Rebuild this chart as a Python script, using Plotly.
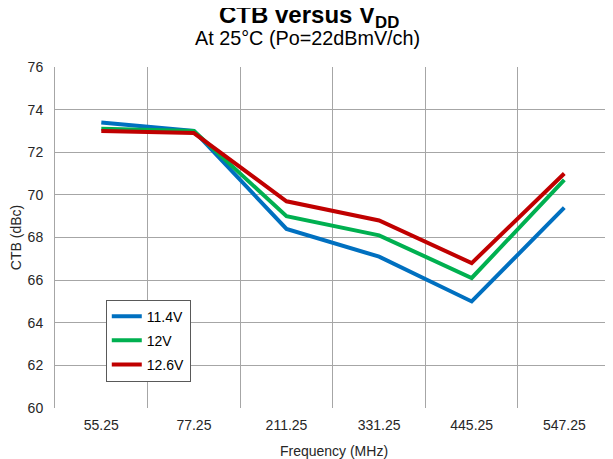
import plotly.graph_objects as go

# frequency categories (MHz)
freq = ['55.25', '77.25', '211.25', '331.25', '445.25', '547.25']

# CTB (dBc) per supply voltage
ctb_114 = [73.4, 73.0, 68.4, 67.1, 65.0, 69.4]
ctb_120 = [73.1, 73.0, 69.0, 68.1, 66.1, 70.7]
ctb_126 = [73.0, 72.9, 69.7, 68.8, 66.8, 71.0]

series = [
    ('11.4V', ctb_114, '#0070C0'),
    ('12V', ctb_120, '#00B050'),
    ('12.6V', ctb_126, '#C00000'),
]

FONT = 'Liberation Sans, Arial, sans-serif'
GRID = '#a6a6a6'

fig = go.Figure()
for i, (name, vals, color) in enumerate(series):
    fig.add_trace(go.Scatter(
        x=freq, y=vals, name=name, mode='lines',
        line=dict(color=color, width=4),
        legendgroup=str(i),
    ))

fig.update_xaxes(
    type='category', tickson='boundaries', range=[-0.5, 5.526],
    showgrid=True, gridcolor=GRID, gridwidth=1,
    showline=False, zeroline=False,
    tickfont=dict(size=14, color='#262626'),
    ticklabelstandoff=7,
    title=dict(text='Frequency (MHz)', font=dict(size=14, color='#262626'), standoff=14),
)
fig.update_yaxes(
    range=[60, 76], dtick=2,
    showgrid=True, gridcolor=GRID, gridwidth=1,
    showline=True, linecolor=GRID, linewidth=1, zeroline=False,
    tickfont=dict(size=14, color='#262626'),
    ticklabelstandoff=8,
    title=dict(text='CTB (dBc)', font=dict(size=14, color='#262626'), standoff=4),
)

# title and subtitle
fig.add_annotation(
    text='<b>CTB versus V<sub>DD</sub></b>', xref='paper', yref='paper',
    x=0.455, y=1.0, yshift=33, xanchor='center', yanchor='bottom',
    showarrow=False, font=dict(size=24, color='black', family=FONT),
)
fig.add_annotation(
    text='At 25°C (Po=22dBmV/ch)', xref='paper', yref='paper',
    x=0.453, y=1.0, yshift=16, xanchor='center', yanchor='bottom',
    showarrow=False, font=dict(size=19.8, color='black', family=FONT),
)

# the page body adds an 8px offset, so the figure is 8px smaller
fig.update_layout(
    width=605, height=451,
    margin=dict(l=47, r=0, t=59, b=51),
    plot_bgcolor='white', paper_bgcolor='white',
    font=dict(family=FONT, color='#262626'),
    showlegend=True,
    legend=dict(
        x=0.091, y=0.318, xanchor='left', yanchor='top',
        bordercolor='#595959', borderwidth=1, bgcolor='white',
        font=dict(size=14, color='black'),
        tracegroupgap=3, traceorder='grouped',
        entrywidth=53,
    ),
)

fig.write_html('out.html')
